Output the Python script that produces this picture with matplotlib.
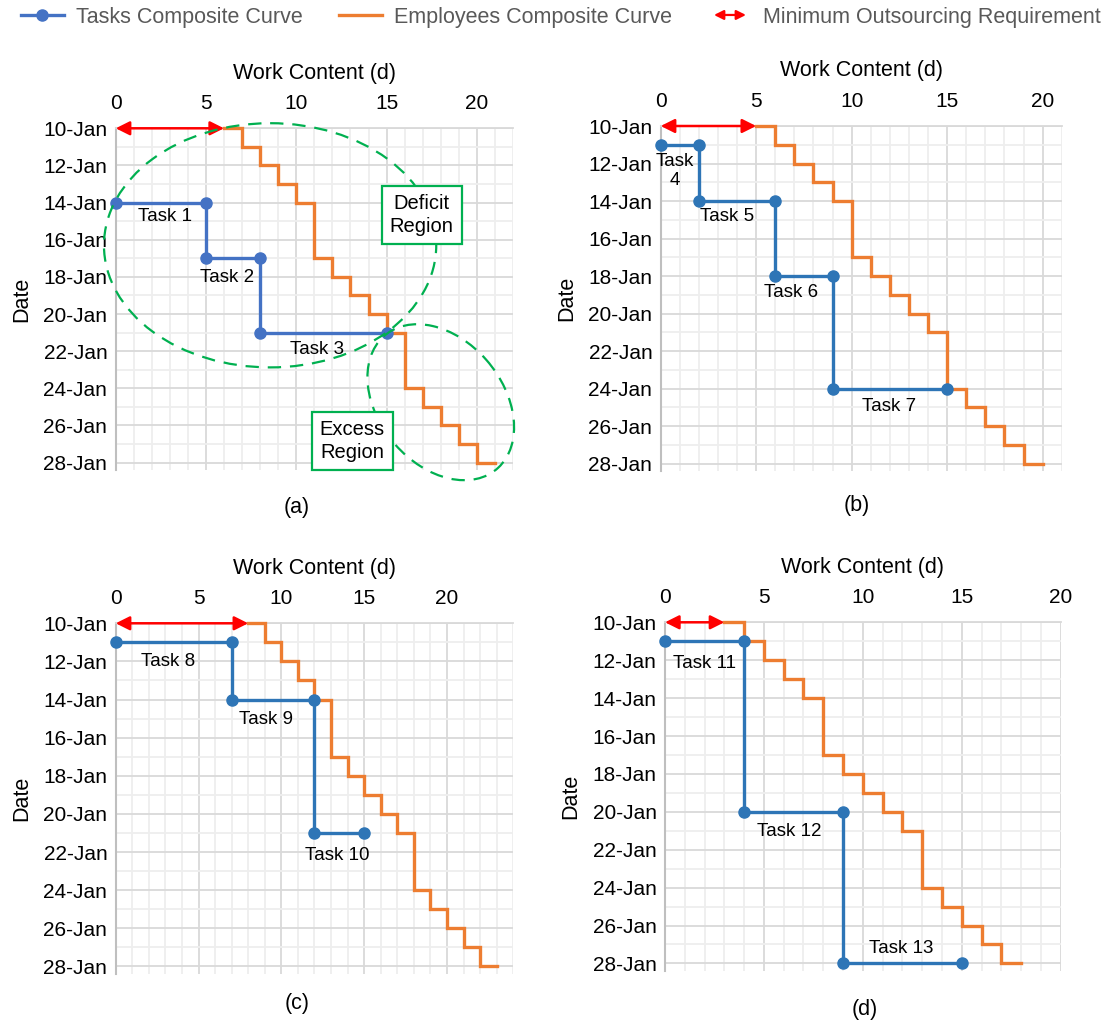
import matplotlib
matplotlib.use("Agg")
import matplotlib.pyplot as plt
from matplotlib.patches import Ellipse, FancyArrowPatch
from matplotlib.lines import Line2D
from matplotlib.legend_handler import HandlerBase
from matplotlib.ticker import MultipleLocator, FixedLocator, FixedFormatter

plt.rcParams['font.family'] = ['Liberation Sans', 'DejaVu Sans']

# ---------------- data ----------------
date_ticks = [10, 12, 14, 16, 18, 20, 22, 24, 26, 28]
date_labels = [f"{d}-Jan" for d in date_ticks]

# Employees composite curve vertices (date axis shared by all panels)
emp_dates = [10, 10, 11, 11, 12, 12, 13, 13, 14, 14, 17, 17, 18, 18, 19, 19,
             20, 20, 21, 21, 24, 24, 25, 25, 26, 26, 27, 27, 28, 28]
emp_a = [6, 7, 7, 8, 8, 9, 9, 10, 10, 11, 11, 12, 12, 13, 13, 14, 14, 15, 15,
         16, 16, 17, 17, 18, 18, 19, 19, 20, 20, 21]
emp_b = [5, 6, 6, 7, 7, 8, 8, 9, 9, 10, 10, 11, 11, 12, 12, 13, 13, 14, 14,
         15, 15, 16, 16, 17, 17, 18, 18, 19, 19, 20]
emp_c = [8, 9, 9, 10, 10, 11, 11, 12, 12, 13, 13, 14, 14, 15, 15, 16, 16, 17, 17,
         18, 18, 19, 19, 20, 20, 21, 21, 22, 22, 23]
emp_d = [3, 4, 4, 5, 5, 6, 6, 7, 7, 8, 8, 9, 9, 10, 10, 11, 11, 12, 12,
         13, 13, 14, 14, 15, 15, 16, 16, 17, 17, 18]

# Tasks composite curve vertices
task_a_x = [0, 5, 5, 8, 8, 15]
task_a_y = [14, 14, 17, 17, 21, 21]
task_b_x = [0, 2, 2, 6, 6, 9, 9, 15]
task_b_y = [11, 11, 14, 14, 18, 18, 24, 24]
task_c_x = [0, 7, 7, 12, 12, 15]
task_c_y = [11, 11, 14, 14, 21, 21]
task_d_x = [0, 4, 4, 9, 9, 15]
task_d_y = [11, 11, 20, 20, 28, 28]

# Minimum outsourcing requirement (work content at start date)
min_out = [6, 5, 8, 3]

task_names_a = ["Task 1", "Task 2", "Task 3"]
task_names_b = ["Task\n4", "Task 5", "Task 6", "Task 7"]
task_names_c = ["Task 8", "Task 9", "Task 10"]
task_names_d = ["Task 11", "Task 12", "Task 13"]

x_max = [22, 21, 24, 20]
panel_letters = ["(a)", "(b)", "(c)", "(d)"]

# ---------------- style ----------------
W, H = 1102, 1025
fig = plt.figure(figsize=(W / 100, H / 100), dpi=100)

ORANGE = "#ED7D31"
BLUE_A = "#4472C4"
BLUE = "#2E75B6"
GREEN = "#00B050"
RED = "#FF0000"

# axes boxes in pixels: left, top, right, bottom
boxes = [(115.7, 128.3, 513.0, 470.0),
         (660.7, 126.0, 1061.7, 471.0),
         (115.7, 623.3, 513.3, 974.0),
         (665.0, 622.3, 1060.7, 971.0)]

emps = [emp_a, emp_b, emp_c, emp_d]
tasks = [(task_a_x, task_a_y), (task_b_x, task_b_y), (task_c_x, task_c_y), (task_d_x, task_d_y)]
names = [task_names_a, task_names_b, task_names_c, task_names_d]
blues = [BLUE_A, BLUE, BLUE, BLUE]
label_pos = [
    [(2.75, 14.75), (6.15, 18.05), (11.15, 21.9)],
    [(0.75, 12.4), (3.5, 14.85), (6.85, 18.9), (11.95, 24.95)],
    [(3.15, 12.0), (9.05, 15.05), (13.4, 22.2)],
    [(2.0, 12.15), (6.3, 21.05), (11.95, 27.2)],
]
letter_pos = [(297, 507), (857, 506), (297, 1003), (865, 1009)]

for i in range(4):
    l, t, r, b = boxes[i]
    ax = fig.add_axes([l / W, 1 - b / H, (r - l) / W, (b - t) / H])
    ax.set_xlim(0, x_max[i])
    ax.set_ylim(28.4, 10)
    ax.xaxis.tick_top()
    ax.xaxis.set_label_position("top")
    ax.xaxis.set_major_locator(MultipleLocator(5))
    ax.xaxis.set_minor_locator(MultipleLocator(1))
    ax.yaxis.set_major_locator(FixedLocator(date_ticks))
    ax.yaxis.set_major_formatter(FixedFormatter(date_labels))
    ax.yaxis.set_minor_locator(MultipleLocator(1))
    ax.tick_params(which="both", length=0, labelsize=15)
    ax.tick_params(axis="x", pad=11)
    ax.tick_params(axis="y", pad=6)
    ax.grid(which="major", color="#D9D9D9", lw=1.3)
    ax.grid(which="minor", color="#EEEEEE", lw=1.3)
    ax.set_axisbelow(True)
    for s in ["right", "bottom"]:
        ax.spines[s].set_visible(False)
    ax.spines["left"].set_color("#BFBFBF")
    ax.spines["left"].set_linewidth(1.5)
    ax.spines["top"].set_color("#D9D9D9")
    ax.spines["top"].set_linewidth(1.3)
    ax.set_xlabel("Work Content (d)", fontsize=15.5, labelpad=11)
    ax.set_ylabel("Date", fontsize=15.5, labelpad=8)

    ax.plot(emps[i], emp_dates, color=ORANGE, lw=2.4, clip_on=False, zorder=3,
            solid_joinstyle="miter")
    tx, ty = tasks[i]
    ax.plot(tx, ty, color=blues[i], lw=2.4, marker="o", ms=8, clip_on=False, zorder=4)

    arr = FancyArrowPatch((0, 10), (min_out[i], 10), arrowstyle="<|-|>",
                          mutation_scale=21, color=RED, lw=1.8,
                          shrinkA=0, shrinkB=0, clip_on=False, zorder=5)
    ax.add_patch(arr)

    for nm, (px, py) in zip(names[i], label_pos[i]):
        ax.text(px, py, nm, fontsize=13.5, ha="center", va="center", zorder=6,
                linespacing=1.1)

    fig.text(letter_pos[i][0] / W, 1 - letter_pos[i][1] / H, panel_letters[i],
             fontsize=15.5, ha="center", va="center")

    if i == 0:
        e1 = Ellipse((8.55, 16.3), 18.4, 13.15, angle=0, fill=False,
                     edgecolor=GREEN, lw=1.6, ls=(0, (6, 4)), zorder=5, clip_on=False)
        ax.add_patch(e1)
        e2 = Ellipse((18.0, 24.75), 9.5, 6.8, angle=48, fill=False,
                     edgecolor=GREEN, lw=1.6, ls=(0, (6, 4)), zorder=5, clip_on=False)
        ax.add_patch(e2)
        bb = dict(boxstyle="square,pad=0.4", fc="white", ec=GREEN, lw=1.6)
        ax.text(16.95, 14.65, "Deficit\nRegion", fontsize=14.5, ha="center", va="center",
                bbox=bb, zorder=7, linespacing=1.25)
        ax.text(13.1, 26.85, "Excess\nRegion", fontsize=14.5, ha="center", va="center",
                bbox=bb, zorder=7, linespacing=1.25)


# ---------------- legend ----------------
class HandlerDoubleArrow(HandlerBase):
    def create_artists(self, legend, orig_handle, xdescent, ydescent, width,
                       height, fontsize, trans):
        y = height / 2 - ydescent
        p = FancyArrowPatch((-xdescent + 4, y), (-xdescent + width - 4, y),
                            arrowstyle="<|-|>", mutation_scale=14, color=RED,
                            lw=1.6, shrinkA=0, shrinkB=0, transform=trans)
        return [p]


class ArrowProxy:
    pass


h1 = Line2D([], [], color=BLUE_A, lw=2.4, marker="o", ms=8)
h2 = Line2D([], [], color=ORANGE, lw=2.4)
h3 = ArrowProxy()
leg = fig.legend([h1, h2, h3],
                 ["Tasks Composite Curve", "Employees Composite Curve",
                  "Minimum Outsourcing Requirement"],
                 handler_map={ArrowProxy: HandlerDoubleArrow()},
                 loc="center", bbox_to_anchor=(0.509, 1 - 17 / H), ncol=3,
                 frameon=False, fontsize=15.5, handlelength=2.0,
                 columnspacing=1.7, handletextpad=0.55, labelcolor="#595959")

fig.savefig("out.png", dpi=100)
